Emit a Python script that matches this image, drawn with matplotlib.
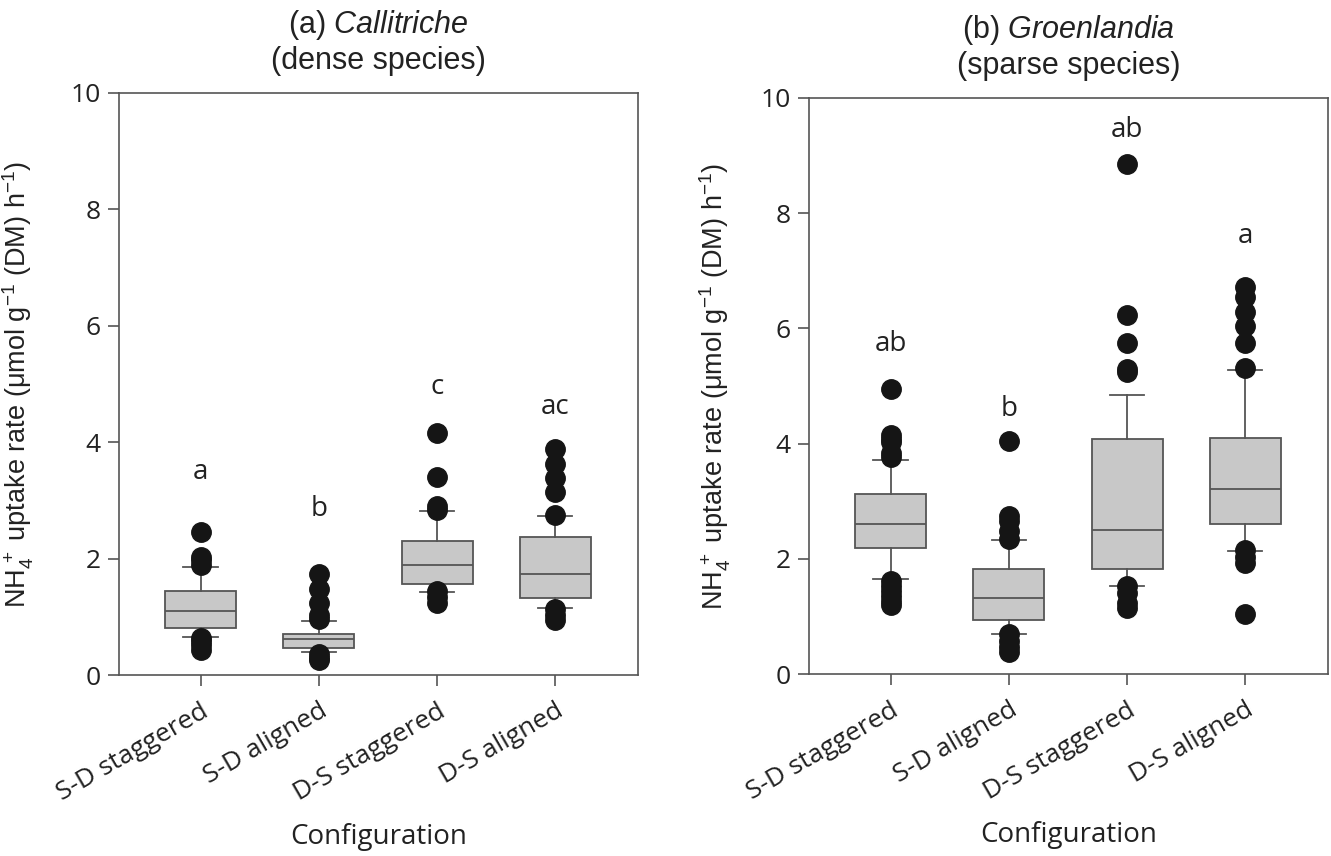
import matplotlib
matplotlib.use('Agg')
import matplotlib.pyplot as plt

plt.rcParams['mathtext.fontset'] = 'custom'
plt.rcParams['mathtext.rm'] = 'Liberation Sans'
plt.rcParams['mathtext.it'] = 'Liberation Sans:italic'

categories = ['S-D staggered', 'S-D aligned', 'D-S staggered', 'D-S aligned']

# (a) Callitriche - box statistics
cal_whislo = [0.66, 0.39, 1.42, 1.15]
cal_q1 = [0.80, 0.46, 1.56, 1.32]
cal_med = [1.10, 0.62, 1.89, 1.74]
cal_q3 = [1.44, 0.70, 2.30, 2.38]
cal_whishi = [1.86, 0.93, 2.81, 2.73]
cal_fliers = [
    [2.45, 2.03, 1.97, 1.89, 0.64, 0.58, 0.51, 0.43],
    [1.74, 1.48, 1.24, 1.04, 0.96, 0.37, 0.30, 0.25],
    [4.15, 3.40, 2.91, 2.84, 1.45, 1.34, 1.24],
    [3.88, 3.62, 3.38, 3.15, 2.75, 1.13, 1.03, 0.95],
]
cal_letters = ['a', 'b', 'c', 'ac']
cal_letter_y = [3.48, 2.85, 4.95, 4.60]

# (b) Groenlandia
gro_whislo = [1.65, 0.70, 1.52, 2.14]
gro_q1 = [2.18, 0.93, 1.83, 2.61]
gro_med = [2.60, 1.32, 2.50, 3.22]
gro_q3 = [3.12, 1.82, 4.08, 4.10]
gro_whishi = [3.71, 2.32, 4.85, 5.28]
gro_fliers = [
    [4.95, 4.15, 4.08, 4.02, 3.84, 3.77, 1.62, 1.52, 1.44, 1.36, 1.27, 1.20],
    [4.05, 2.74, 2.65, 2.48, 2.35, 0.69, 0.57, 0.47, 0.38],
    [8.86, 6.23, 5.74, 5.30, 5.25, 1.53, 1.40, 1.24, 1.14],
    [6.71, 6.55, 6.29, 6.04, 5.75, 5.32, 2.16, 2.03, 1.93, 1.05],
]
gro_letters = ['ab', 'b', 'ab', 'a']
gro_letter_y = [5.72, 4.60, 9.45, 7.60]

edge = '#555555'
fill = '#c8c8c8'
dark = '#151515'
txt = '#222222'
tickfont = 'Open Sans'
labfont = 'Liberation Sans'


def draw_panel(ax, whislo, q1, med, q3, whishi, fliers, letters, letter_y, title):
    stats = []
    for i in range(len(categories)):
        stats.append(dict(whislo=whislo[i], q1=q1[i], med=med[i], q3=q3[i],
                          whishi=whishi[i], fliers=fliers[i], label=categories[i]))
    ax.bxp(stats, positions=range(1, 5), widths=0.6, capwidths=0.29,
           patch_artist=True, showfliers=True,
           boxprops=dict(facecolor=fill, edgecolor=edge, linewidth=1.3),
           medianprops=dict(color=edge, linewidth=1.3),
           whiskerprops=dict(color=edge, linewidth=1.3),
           capprops=dict(color=edge, linewidth=1.3),
           flierprops=dict(marker='o', markerfacecolor=dark, markeredgecolor=dark,
                           markersize=14))
    for i, (t, y) in enumerate(zip(letters, letter_y)):
        ax.text(i + 1, y, t, ha='center', va='center', fontsize=20,
                family=tickfont, color=txt)
    ax.set_xlim(0.31, 4.70)
    ax.set_ylim(0, 10)
    ax.set_yticks([0, 2, 4, 6, 8, 10])
    ax.set_yticklabels(['0', '2', '4', '6', '8', '10'], family=tickfont, fontsize=19)
    ax.set_xticks(range(1, 5))
    ax.set_xticklabels(categories, rotation=30, ha='right', rotation_mode='anchor',
                       family=tickfont, fontsize=19)
    ax.tick_params(axis='both', direction='out', length=8, width=1.2,
                   color=edge, labelcolor=txt)
    ax.tick_params(axis='x', pad=9)
    ax.tick_params(axis='y', pad=5)
    for s in ax.spines.values():
        s.set_color(edge)
        s.set_linewidth(1.2)
    ax.set_ylabel(r'NH$_4^{\,+}$ uptake rate ($\mathrm{\mu}$mol g$^{-1}$ (DM) h$^{-1}$)',
                  family=labfont, fontsize=19.5, color=txt)
    ax.set_xlabel('Configuration', family=tickfont, fontsize=20, color=txt)
    ax.xaxis.set_label_coords(0.5, -0.255)
    ax.set_title(title, family=labfont, fontsize=22, color=txt, pad=17,
                 linespacing=1.2)


fig = plt.figure(figsize=(13.31, 8.56), dpi=100)
ax1 = fig.add_axes([0.0894, 0.2114, 0.390, 0.680])
ax2 = fig.add_axes([0.6078, 0.2126, 0.390, 0.673])

draw_panel(ax1, cal_whislo, cal_q1, cal_med, cal_q3, cal_whishi, cal_fliers,
           cal_letters, cal_letter_y, '(a) $\\mathit{Callitriche}$\n(dense species)')
draw_panel(ax2, gro_whislo, gro_q1, gro_med, gro_q3, gro_whishi, gro_fliers,
           gro_letters, gro_letter_y, '(b) $\\mathit{Groenlandia}$\n(sparse species)')
ax1.yaxis.set_label_coords(-0.160, 0.5)
ax2.yaxis.set_label_coords(-0.146, 0.5)

fig.savefig('out.png', dpi=100)
